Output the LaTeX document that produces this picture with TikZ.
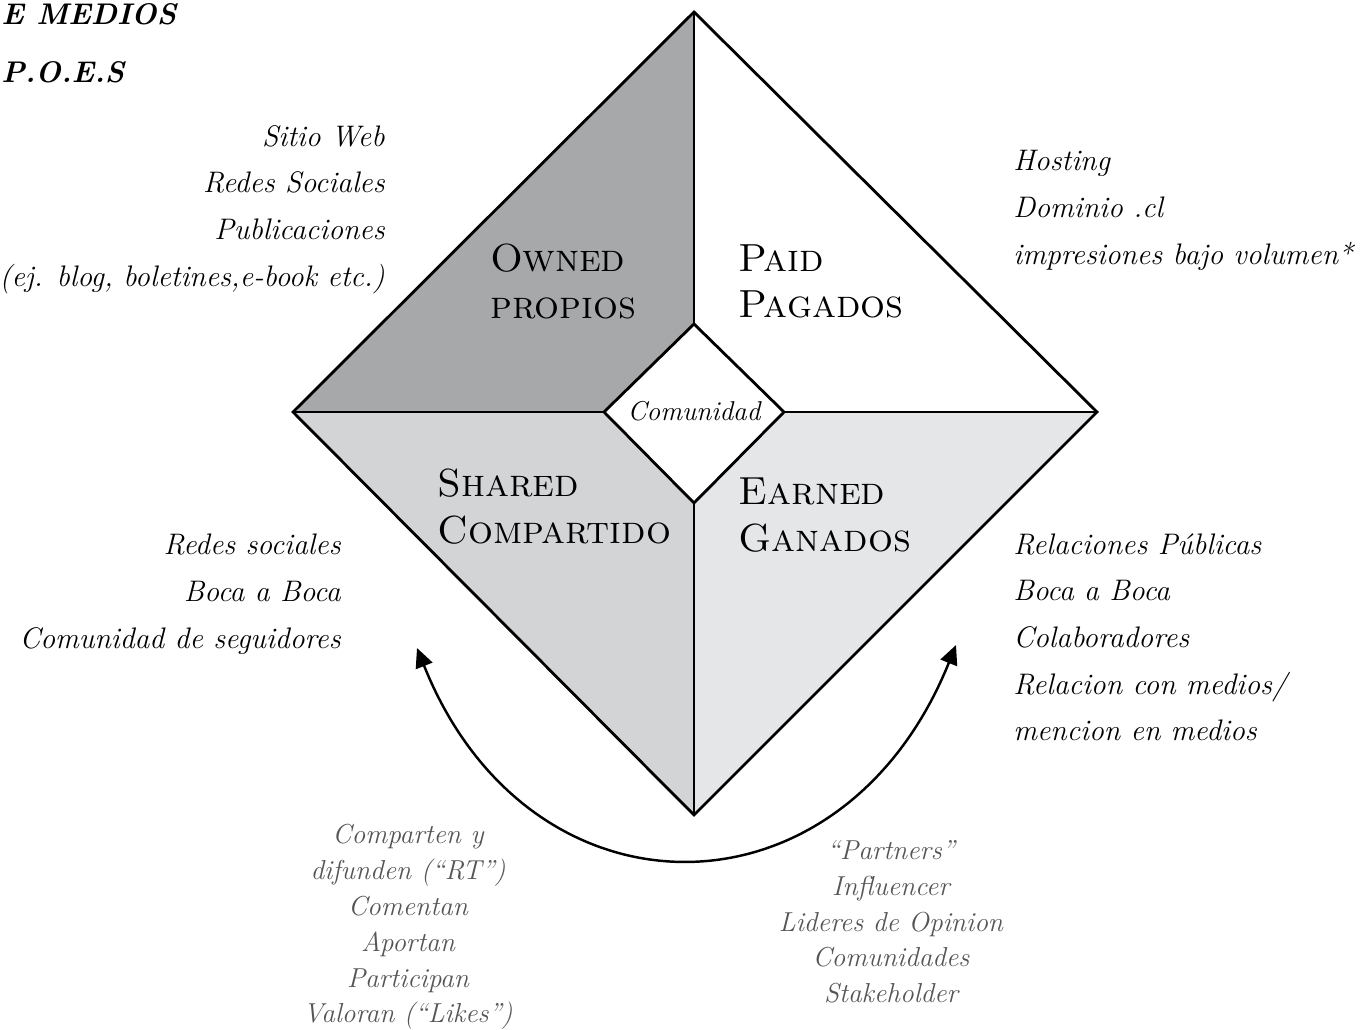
\documentclass[tikz,border=0pt]{standalone}
\usepackage{fontspec}
\usetikzlibrary{arrows.meta}
\definecolor{ownedgray}{HTML}{A7A8AA}
\definecolor{sharedgray}{HTML}{D3D4D6}
\definecolor{earnedgray}{HTML}{E5E6E8}
\definecolor{notegray}{HTML}{555555}
\tikzset{
  edge/.style={line width=1.6pt,line join=miter},
  flow/.style={line width=1.4pt,{Triangle[length=11pt,width=10pt]}-{Triangle[length=11pt,width=10pt]}},
  quadlabel/.style={font=\fontsize{22.3}{26.6}\selectfont\scshape,align=left,anchor=north west,inner sep=0pt},
  listright/.style={font=\fontsize{16.9}{26.6}\selectfont\itshape,align=right,anchor=north east,inner sep=0pt},
  listleft/.style={font=\fontsize{16.9}{26.6}\selectfont\itshape,align=left,anchor=north west,inner sep=0pt},
  notes/.style={font=\fontsize{15.6}{20.4}\selectfont\itshape,text=notegray,align=center,anchor=north,inner sep=0pt},
}
\begin{document}
\begin{tikzpicture}[x=0.02cm,y=-0.02cm]
    \useasboundingbox (0,0) rectangle (1360,1030);
    %% Corners
    \coordinate (outerN) at (694,12);
    \coordinate (outerW) at (293,412);
    \coordinate (outerE) at (1097,412);
    \coordinate (outerS) at (694,815);
    \coordinate (innerN) at (694,324);
    \coordinate (innerW) at (604,412);
    \coordinate (innerE) at (784,412);
    \coordinate (innerS) at (694,503);
    %% Quadrants
    \fill[ownedgray] (outerN) -- (outerW) -- (innerW) -- (innerN) -- cycle;
    \fill[white] (outerN) -- (innerN) -- (innerE) -- (outerE) -- cycle;
    \fill[sharedgray] (outerW) -- (outerS) -- (innerS) -- (innerW) -- cycle;
    \fill[earnedgray] (outerS) -- (outerE) -- (innerE) -- (innerS) -- cycle;
    \fill[white] (innerN) -- (innerE) -- (innerS) -- (innerW) -- cycle;
    %% Lines
    \draw[edge] (outerN) -- (outerE) -- (outerS) -- (outerW) -- cycle;
    \draw[edge] (innerN) -- (innerE) -- (innerS) -- (innerW) -- cycle;
    \draw[edge] (outerN) -- (innerN);
    \draw[edge] (innerS) -- (outerS);
    \draw[edge] (outerW) -- (innerW);
    \draw[edge] (innerE) -- (outerE);
    %% Labels
    \node[font=\fontsize{15.5}{18}\selectfont\itshape,inner sep=0pt] (comunidad) at (694,411) {Comunidad};
    \node[quadlabel] (owned) at (490,244) {Owned\\propios};
    \node[quadlabel] (paid) at (738,244) {Paid\\Pagados};
    \node[quadlabel] (shared) at (437,469) {Shared\\Compartido};
    \node[quadlabel] (earned) at (738,478) {Earned\\Ganados};
    %% Title
    \node[font=\fontsize{17}{29}\selectfont\bfseries\itshape,align=left,anchor=north west,inner sep=0pt] (title) at (1,3) {E MEDIOS\\[0.25em]P.O.E.S};
    %% Lists
    \node[listright] (ownedlist) at (385,125) {Sitio Web\\Redes Sociales\\Publicaciones\\(ej. blog, boletines,e-book etc.)};
    \node[listleft] (paidlist) at (1013,150) {Hosting\\Dominio .cl\\impresiones bajo volumen*};
    \node[listright] (sharedlist) at (341,534) {Redes sociales\\Boca a Boca\\Comunidad de seguidores};
    \node[listleft] (earnedlist) at (1013,533) {Relaciones Públicas\\Boca a Boca\\Colaboradores\\Relacion con medios/\\mencion en medios};
    %% Notes
    \node[notes] (sharednotes) at (408,824) {Comparten y\\difunden (``RT'')\\Comentan\\Aportan\\Participan\\Valoran (``Likes'')};
    \node[notes] (earnednotes) at (891,840) {``Partners''\\Influencer\\Lideres de Opinion\\Comunidades\\Stakeholder};
    %% Arrow
    \coordinate (sharedtip) at (417,648);
    \coordinate (earnedtip) at (956,645);
    \draw[flow] (sharedtip) .. controls (529,928) and (842,928) .. (earnedtip);
\end{tikzpicture}
\end{document}
